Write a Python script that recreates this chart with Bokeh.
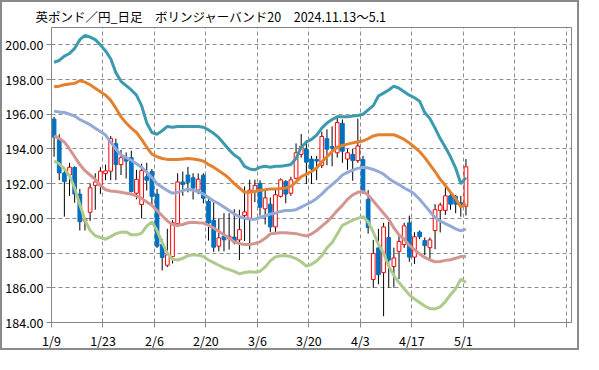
from bokeh.plotting import figure
from bokeh.models import FixedTicker, Range1d, NumeralTickFormatter
from bokeh.embed import file_html
from bokeh.resources import INLINE

title_text = "英ポンド／円_日足　ボリンジャーバンド20　2024.11.13～5.1"
x_tick_labels = ["1/9", "1/23", "2/6", "2/20", "3/6", "3/20", "4/3", "4/17", "5/1", "", ""]
y_ticks = [184, 186, 188, 190, 192, 194, 196, 198, 200]

opens = [195.72, 194.55, 192.62, 192.50, 192.93, 191.40, 189.85, 190.35, 191.90, 191.90,
         192.58, 192.72, 194.30, 193.10, 193.45, 193.50, 191.45, 190.80, 192.40, 192.70,
         191.40, 188.50, 187.30, 187.80, 189.70, 192.10, 192.50, 192.34, 191.63, 192.49,
         190.98, 189.89, 188.40, 188.97, 188.83, 188.92, 188.76, 190.16, 190.01, 191.54,
         192.02, 190.55, 190.82, 189.51, 191.27, 192.13, 191.45, 192.31, 193.69, 193.99,
         193.42, 193.40, 193.06, 194.59, 194.14, 193.78, 195.48, 193.42, 193.69, 193.33,
         193.39, 191.09, 186.48, 188.30, 186.87, 188.90, 187.23, 188.10, 188.49, 189.74,
         187.77, 189.21, 188.72, 188.31, 189.30, 190.46, 190.46, 191.30, 191.27, 190.90,
         190.70]
highs = [195.85, 194.85, 192.80, 193.20, 193.00, 191.70, 190.05, 192.00, 192.60, 192.95,
         193.10, 194.75, 194.60, 193.95, 193.80, 193.90, 192.80, 193.15, 193.20, 192.85,
         191.70, 188.80, 189.40, 189.90, 192.60, 192.70, 192.97, 192.60, 192.59, 192.60,
         191.10, 190.91, 190.01, 190.30, 190.30, 190.53, 190.50, 191.84, 192.23, 192.23,
         192.20, 191.70, 191.20, 191.70, 192.30, 192.20, 192.40, 194.32, 194.86, 194.50,
         193.60, 193.60, 195.00, 195.13, 195.30, 195.93, 195.70, 194.00, 194.00, 195.75,
         193.60, 191.63, 188.76, 189.40, 189.74, 189.80, 188.31, 189.07, 189.75, 190.16,
         189.20, 189.30, 188.90, 188.90, 190.82, 190.90, 191.81, 191.63, 191.35, 191.30,
         193.42]
lows = [193.55, 192.20, 190.10, 191.30, 190.90, 189.30, 189.30, 189.85, 190.50, 191.40,
        192.20, 192.20, 192.20, 192.50, 192.30, 191.50, 191.10, 190.00, 191.60, 190.70,
        188.30, 187.00, 187.20, 187.40, 189.50, 191.30, 191.50, 191.09, 191.40, 190.87,
        188.72, 188.07, 188.10, 188.10, 188.20, 188.50, 187.60, 188.70, 188.20, 190.94,
        190.16, 189.65, 189.21, 189.20, 191.20, 190.87, 191.30, 192.25, 193.50, 191.98,
        191.98, 192.20, 192.90, 193.06, 193.00, 193.50, 193.20, 192.80, 192.17, 193.20,
        191.40, 189.12, 186.00, 186.20, 184.36, 186.00, 186.00, 186.50, 188.30, 187.50,
        187.37, 188.80, 187.88, 187.60, 188.22, 189.19, 190.20, 190.50, 190.30, 190.10,
        190.17]
closes = [194.68, 192.62, 192.12, 192.95, 191.40, 189.80, 189.98, 191.76, 192.10, 192.72,
          192.74, 194.60, 193.10, 193.50, 193.30, 191.55, 192.25, 192.75, 192.20, 191.27,
          188.40, 187.75, 187.90, 189.75, 192.10, 191.95, 192.08, 191.75, 192.26, 191.16,
          189.73, 188.34, 188.88, 188.76, 188.97, 188.63, 189.35, 190.37, 191.63, 191.90,
          190.64, 191.18, 189.51, 191.36, 192.22, 191.40, 192.22, 193.78, 194.14, 193.24,
          192.85, 193.30, 194.72, 193.99, 194.05, 195.52, 193.87, 193.78, 193.33, 194.17,
          191.49, 189.47, 187.98, 186.75, 189.51, 187.60, 187.72, 188.67, 189.57, 187.77,
          188.94, 188.94, 188.43, 188.76, 190.50, 190.77, 191.30, 190.82, 190.82, 190.75,
          192.97]

upper2 = [199.00, 199.10, 199.35, 199.50, 199.80, 200.30, 200.55, 200.45, 200.30, 200.00,
          199.65, 199.20, 198.40, 197.90, 197.65, 197.40, 197.10, 196.50, 195.50, 194.95,
          194.85, 195.05, 195.30, 195.25, 195.30, 195.30, 195.30, 195.30, 195.30, 195.25,
          195.10, 194.90, 194.65, 194.30, 193.95, 193.65, 193.45, 193.00, 192.85, 192.80,
          192.95, 193.00, 192.95, 193.00, 193.00, 193.05, 193.10, 193.45, 194.10, 194.40,
          194.55, 194.80, 195.20, 195.50, 195.70, 195.85, 195.85, 195.85, 195.90, 195.93,
          196.00, 196.25, 196.50, 197.05, 197.22, 197.40, 197.62, 197.50, 197.30, 197.10,
          196.95, 196.75, 196.10, 195.75, 195.20, 194.60, 194.10, 193.55, 192.90, 192.00,
          192.35]
upper1 = [197.58, 197.62, 197.70, 197.75, 197.78, 197.93, 197.85, 197.70, 197.50, 197.30,
          197.10, 196.80, 196.35, 195.85, 195.50, 195.20, 194.95, 194.55, 194.10, 193.70,
          193.55, 193.45, 193.40, 193.40, 193.40, 193.42, 193.45, 193.42, 193.38, 193.30,
          193.10, 192.95, 192.75, 192.55, 192.30, 192.00, 191.75, 191.50, 191.50, 191.55,
          191.62, 191.65, 191.70, 191.70, 191.72, 191.75, 191.85, 192.10, 192.40, 192.55,
          192.70, 192.90, 193.25, 193.55, 193.85, 194.10, 194.20, 194.28, 194.35, 194.42,
          194.46, 194.60, 194.75, 194.82, 194.82, 194.82, 194.82, 194.70, 194.55, 194.35,
          194.10, 193.85, 193.50, 193.10, 192.70, 192.25, 191.90, 191.50, 191.15, 190.65,
          190.85]
middle = [196.18, 196.13, 196.10, 196.00, 195.90, 195.70, 195.55, 195.40, 195.20, 195.00,
          194.80, 194.40, 194.00, 193.65, 193.50, 193.35, 193.15, 192.95, 192.65, 192.35,
          192.00, 191.80, 191.60, 191.45, 191.50, 191.60, 191.68, 191.62, 191.55, 191.40,
          191.20, 191.00, 190.85, 190.65, 190.45, 190.25, 190.10, 190.00, 189.95, 189.95,
          190.05, 190.15, 190.25, 190.30, 190.40, 190.45, 190.45, 190.50, 190.65, 190.80,
          190.95, 191.15, 191.40, 191.70, 191.95, 192.20, 192.50, 192.65, 192.78, 192.88,
          192.95, 192.90, 192.82, 192.70, 192.55, 192.30, 192.10, 191.95, 191.75, 191.60,
          191.40, 191.10, 190.75, 190.40, 190.05, 189.85, 189.70, 189.55, 189.40, 189.28,
          189.38]
lower1 = [194.75, 194.60, 194.40, 194.00, 193.55, 193.10, 192.75, 192.50, 192.25, 191.90,
          191.65, 191.58, 191.55, 191.50, 191.45, 191.40, 191.30, 191.15, 190.95, 190.75,
          190.45, 190.15, 189.85, 189.65, 189.60, 189.65, 189.75, 189.78, 189.75, 189.73,
          189.60, 189.45, 189.25, 189.05, 188.85, 188.65, 188.55, 188.50, 188.50, 188.55,
          188.65, 188.85, 189.10, 189.15, 189.17, 189.17, 189.15, 189.12, 189.05, 188.99,
          189.10, 189.30, 189.55, 189.80, 190.10, 190.45, 190.75, 191.10, 191.35, 191.50,
          191.55, 191.35, 191.00, 190.65, 190.30, 189.95, 189.45, 189.05, 188.80, 188.45,
          188.20, 187.95, 187.75, 187.60, 187.50, 187.52, 187.58, 187.62, 187.70, 187.80,
          187.80]
lower2 = [193.30, 193.15, 192.85, 192.45, 191.75, 190.80, 189.90, 189.30, 189.00, 188.90,
          188.80, 188.95, 189.12, 189.20, 189.22, 189.05, 189.05, 189.15, 189.55, 189.80,
          189.30, 188.60, 188.00, 187.65, 187.60, 187.70, 187.85, 187.90, 187.88, 187.80,
          187.60, 187.45, 187.30, 187.15, 187.05, 186.95, 186.80, 186.88, 186.92, 186.90,
          186.95, 187.20, 187.55, 187.78, 187.85, 187.85, 187.80, 187.68, 187.50, 187.25,
          187.35, 187.55, 187.85, 188.30, 188.60, 189.10, 189.60, 189.75, 189.90, 190.00,
          190.10, 189.80, 189.20, 188.50, 188.00, 187.25, 186.70, 186.30, 185.95, 185.60,
          185.35, 185.15, 184.95, 184.80, 184.78, 184.90, 185.20, 185.60, 185.95, 186.50,
          186.30]

n = len(opens)
xs = [i + 0.5 for i in range(n)]
x_ticks = [i * 10 for i in range(len(x_tick_labels))]

FONT = "Noto Sans CJK JP"
GRID = "#8c8c8c"
AXIS = "#868686"

p = figure(width=579, height=350, x_range=Range1d(0, 101), y_range=Range1d(184, 201),
           output_backend="svg", toolbar_location=None,
           min_border_left=48, min_border_right=10, min_border_top=18, min_border_bottom=22)
p.styles = {"border": "2px solid #8a8a8a"}
p.background_fill_color = "white"
p.border_fill_color = "white"
p.outline_line_color = AXIS
p.outline_line_width = 1

p.title.text = title_text
p.title.align = "left"
p.title.offset = -16
p.title.text_font = FONT
p.title.text_font_size = "12.5px"
p.title.text_font_style = "normal"
p.title.text_color = "#000000"
p.title.standoff = 4

band_specs = [(upper2, "#3C9AAE"), (upper1, "#E3812F"), (middle, "#93AAD7"),
              (lower1, "#D39592"), (lower2, "#AECB8D")]

up = [c >= o for o, c in zip(opens, closes)]
p.segment(x0=xs, y0=lows, x1=xs, y1=highs, line_color="black", line_width=1)
tops = [max(o, c) for o, c in zip(opens, closes)]
bots = [min(o, c) for o, c in zip(opens, closes)]
fills = ["white" if u else "#0070C0" for u in up]
lines = ["#FF0000" if u else "#0070C0" for u in up]
p.vbar(x=xs, width=0.72, top=tops, bottom=bots, fill_color=fills, line_color=lines, line_width=1)

for vals, col in band_specs:
    p.line(xs, vals, line_color=col, line_width=3)

p.xaxis.ticker = FixedTicker(ticks=x_ticks)
p.xaxis.major_label_overrides = {t: lab for t, lab in zip(x_ticks, x_tick_labels)}
p.yaxis.ticker = FixedTicker(ticks=y_ticks)
p.yaxis.formatter = NumeralTickFormatter(format="0.00")

for ax in (p.xaxis, p.yaxis):
    ax.axis_line_color = AXIS
    ax.major_tick_line_color = AXIS
    ax.major_tick_out = 5
    ax.major_tick_in = 0
    ax.minor_tick_line_color = None
    ax.major_label_text_font = FONT
    ax.major_label_text_font_size = "12.5px"
    ax.major_label_text_color = "#000000"
    ax.major_label_standoff = 3

p.grid.grid_line_color = GRID
p.grid.grid_line_dash = "4 3"
p.grid.grid_line_width = 1

open("out.html", "w").write(file_html(p, INLINE))
